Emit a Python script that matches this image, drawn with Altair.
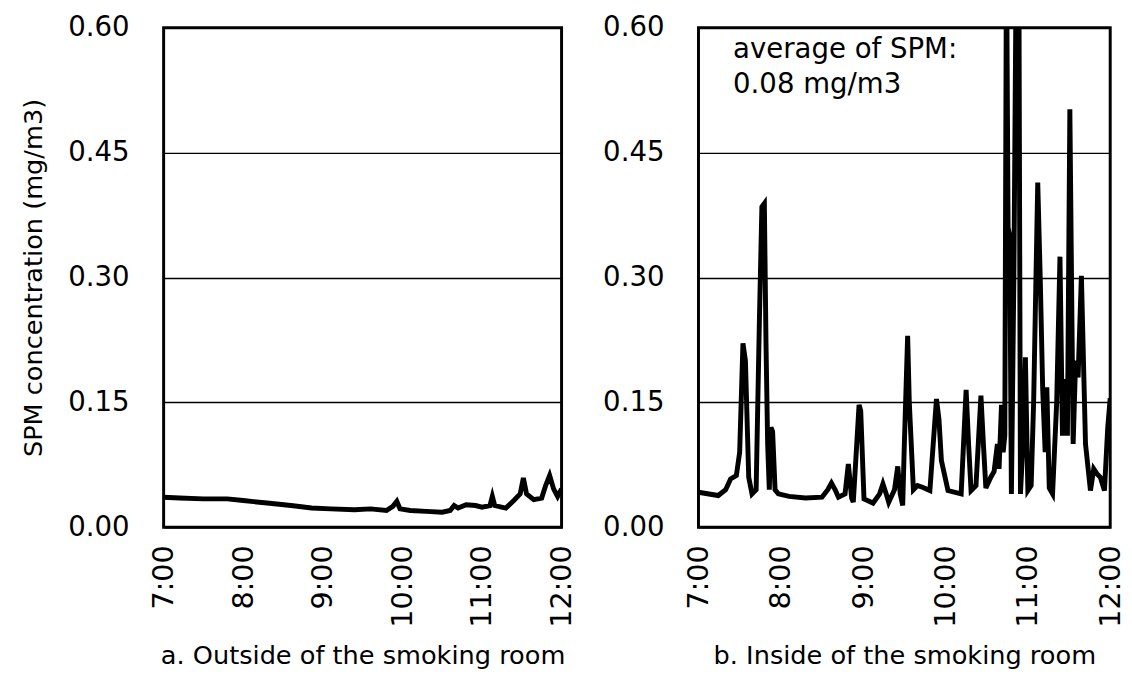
import altair as alt
import pandas as pd

FONT = "DejaVu Sans"

# ---- data (hours of day, SPM mg/m3) ----
outside_hour = [7.00, 7.20, 7.50, 7.80, 8.00, 8.30, 8.60, 8.86, 9.10, 9.40, 9.60, 9.80,
                9.88, 9.93, 9.97, 10.10, 10.30, 10.50, 10.60, 10.65, 10.70, 10.80, 10.92,
                11.00, 11.10, 11.13, 11.16, 11.30, 11.40, 11.48, 11.52, 11.56, 11.65,
                11.75, 11.80, 11.85, 11.90, 11.95, 12.00]
outside_spm = [0.036, 0.035, 0.034, 0.034, 0.032, 0.029, 0.026, 0.023, 0.022, 0.021, 0.022, 0.020,
               0.025, 0.031, 0.022, 0.020, 0.019, 0.018, 0.020, 0.026, 0.023, 0.027, 0.026,
               0.024, 0.026, 0.037, 0.026, 0.023, 0.032, 0.040, 0.059, 0.040, 0.033,
               0.035, 0.050, 0.062, 0.046, 0.037, 0.046]

inside_hour = [7.00, 7.24, 7.33, 7.39, 7.46, 7.50, 7.54, 7.57, 7.61, 7.65, 7.70, 7.74,
               7.77, 7.80, 7.82, 7.84, 7.86, 7.88, 7.90, 7.93, 7.97, 8.10, 8.30,
               8.50, 8.57, 8.615, 8.66, 8.70, 8.78, 8.82, 8.86, 8.88, 8.95, 8.97, 9.01,
               9.12, 9.20, 9.24, 9.28, 9.31, 9.38, 9.42, 9.45, 9.48, 9.50, 9.54, 9.56,
               9.61, 9.66, 9.72, 9.81, 9.89, 9.92, 9.95, 10.03, 10.19, 10.25, 10.28,
               10.31, 10.37, 10.43, 10.46, 10.49, 10.55, 10.59, 10.63, 10.65, 10.68,
               10.70, 10.72, 10.74, 10.76, 10.78, 10.80, 10.83, 10.86, 10.89, 10.91,
               10.94, 10.97, 11.00, 11.04, 11.07, 11.12, 11.15, 11.18, 11.21, 11.23,
               11.26, 11.30, 11.35, 11.39, 11.42, 11.45, 11.48, 11.51, 11.55, 11.58,
               11.61, 11.65, 11.70, 11.76, 11.80, 11.84, 11.88, 11.93, 11.97, 12.00]
inside_spm = [0.042, 0.038, 0.045, 0.058, 0.062, 0.090, 0.221, 0.200, 0.060, 0.040, 0.045, 0.250,
              0.385, 0.389, 0.220, 0.100, 0.045, 0.120, 0.115, 0.045, 0.040, 0.037, 0.035,
              0.036, 0.045, 0.053, 0.045, 0.036, 0.040, 0.076, 0.035, 0.030, 0.147, 0.140, 0.034,
              0.029, 0.040, 0.052, 0.040, 0.030, 0.045, 0.073, 0.040, 0.026, 0.100, 0.230, 0.150,
              0.045, 0.050, 0.048, 0.044, 0.154, 0.130, 0.080, 0.044, 0.040, 0.165, 0.100,
              0.044, 0.050, 0.158, 0.100, 0.047, 0.060, 0.067, 0.100, 0.070, 0.147,
              0.090, 0.110, 0.700, 0.360, 0.350, 0.040, 0.300, 0.700, 0.700, 0.040,
              0.100, 0.204, 0.044, 0.050, 0.150, 0.414, 0.300, 0.166, 0.090, 0.168,
              0.047, 0.040, 0.150, 0.325, 0.110, 0.178, 0.110, 0.502, 0.100, 0.200,
              0.180, 0.302, 0.100, 0.044, 0.070, 0.064, 0.060, 0.044, 0.120, 0.155]

y_ticks = [0.00, 0.15, 0.30, 0.45, 0.60]
x_ticks = [7, 8, 9, 10, 11, 12]
captions = ["a. Outside of the smoking room", "b. Inside of the smoking room"]
y_title = "SPM concentration (mg/m3)"
annotation_text = ["average of SPM:\n0.08 mg/m3"]
annotation_hour = [7.42]
annotation_spm = [0.59]

outside_df = pd.DataFrame({"hour": outside_hour, "spm": outside_spm})
inside_df = pd.DataFrame({"hour": inside_hour, "spm": inside_spm})
annot_df = pd.DataFrame({"hour": annotation_hour, "spm": annotation_spm, "label": annotation_text})


def x_enc(caption):
    return alt.X(
        "hour:Q",
        scale=alt.Scale(domain=[7, 12], nice=False, zero=False),
        axis=alt.Axis(
            values=x_ticks, labelExpr="datum.value + ':00'", labelAngle=-90,
            labelFontSize=29, labelFont=FONT, labelColor="black", labelPadding=18,
            labelFlush=False, labelOverlap=False, ticks=False, domain=False, grid=False,
            title=caption, titleFontSize=26, titleFont=FONT, titleFontWeight="normal",
            titleColor="black", titlePadding=16,
        ),
    )


def y_enc(show_title):
    axis_kwargs = dict(
        values=y_ticks, format=".2f", labelFontSize=28, labelFont=FONT, labelColor="black",
        labelPadding=35, ticks=False, domain=False, grid=True, gridColor="black",
        gridWidth=1.5, gridOpacity=1, labelFlush=False, labelOverlap=False,
    )
    if show_title:
        axis_kwargs.update(title=y_title, titleFontSize=26, titleFont=FONT,
                           titleFontWeight="normal", titleColor="black", titlePadding=22)
    else:
        axis_kwargs.update(title=None)
    return alt.Y("spm:Q", scale=alt.Scale(domain=[0, 0.6], nice=False, zero=True),
                 axis=alt.Axis(**axis_kwargs))


left = alt.Chart(outside_df).mark_line(color="black", strokeWidth=5, clip=True).encode(
    x=x_enc(captions[0]), y=y_enc(True)
).properties(width=404, height=507)

right_line = alt.Chart(inside_df).mark_line(color="black", strokeWidth=5, clip=True).encode(
    x=x_enc(captions[1]), y=y_enc(False)
)
right_text = alt.Chart(annot_df).mark_text(
    align="left", baseline="top", lineBreak="\n", fontSize=28, font=FONT,
    color="black", lineHeight=36
).encode(x="hour:Q", y="spm:Q", text="label:N")
right = alt.layer(right_line, right_text).properties(width=418, height=507)

chart = alt.hconcat(left, right, spacing=23).properties(
    padding={"left": 11, "top": -1, "right": -3, "bottom": 0}
).configure_view(stroke="black", strokeWidth=3)

chart.save("out.html", embed_options={"renderer": "svg", "actions": False})
